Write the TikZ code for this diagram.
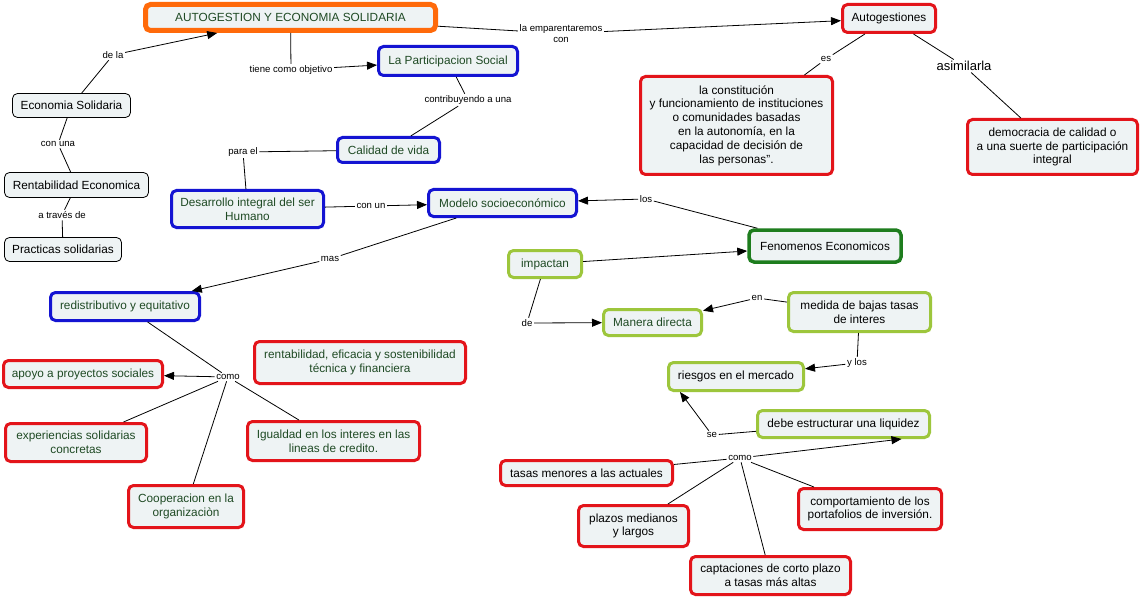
\documentclass[tikz,border=0pt]{standalone}
\usepackage{fontspec}
\setmainfont{Liberation Sans}
\usetikzlibrary{arrows.meta}
\definecolor{boxfill}{HTML}{EEF3F4}
\definecolor{orangeC}{HTML}{FF6A0A}
\definecolor{redC}{HTML}{E3141A}
\definecolor{blueC}{HTML}{1414D2}
\definecolor{greenC}{HTML}{1E7D1E}
\definecolor{yelC}{HTML}{9DC63C}
\definecolor{txtG}{HTML}{1F4A24}
\begin{document}
\begin{tikzpicture}[x=1pt,y=-1pt,
  box/.style={rounded corners=5pt, fill=boxfill, align=center, inner sep=0pt, font=\fontsize{11.8}{13.8}\selectfont, text=black},
  obox/.style={box, draw=orangeC, line width=5pt, text=txtG},
  rbox/.style={box, draw=redC, line width=3pt},
  rgbox/.style={rbox, text=txtG},
  bbox/.style={box, draw=blueC, line width=3pt, text=txtG},
  gbox/.style={box, draw=greenC, line width=3.5pt},
  ybox/.style={box, draw=yelC, line width=3pt},
  ygbox/.style={ybox, text=txtG},
  kbox/.style={box, draw=black, line width=0.8pt},
  lbl/.style={font=\fontsize{9.6}{11}\selectfont, inner sep=1.5pt, align=center},
  conn/.style={line width=0.8pt, black},
  arr/.style={conn, -{Triangle[length=10pt,width=8pt]}}
]
\useasboundingbox (0,0) rectangle (1141,599);
\fill[white] (0,0) rectangle (1141,599);

% concept nodes
\node[obox, minimum width=290pt, minimum height=26pt] (auto) at (290.5,17.5) {AUTOGESTION Y ECONOMIA SOLIDARIA};
\node[rbox, minimum width=93pt, minimum height=28pt] (autog) at (889,18.5) {Autogestiones};
\node[bbox, minimum width=139pt, minimum height=29pt] (part) at (448,61) {La Participacion Social};
\node[kbox, minimum width=118pt, minimum height=24pt] (eso) at (71.5,105.5) {Economia Solidaria};
\node[kbox, minimum width=144pt, minimum height=25pt] (rent) at (76.5,185) {Rentabilidad Economica};
\node[kbox, minimum width=117pt, minimum height=24pt] (prac) at (63,249.5) {Practicas solidarias};
\node[bbox, minimum width=102pt, minimum height=25pt] (cal) at (388.5,150) {Calidad de vida};
\node[bbox, minimum width=152pt, minimum height=37pt] (des) at (247.5,209) {Desarrollo integral del ser\\Humano};
\node[bbox, minimum width=148pt, minimum height=27pt] (mod) at (502.5,203) {Modelo socioeconómico};
\node[rbox, minimum width=192pt, minimum height=98pt] (const) at (736.5,125.5) {la constitución\\y funcionamiento de instituciones\\o comunidades basadas\\en la autonomía, en la\\capacidad de decisión de\\las personas”.};
\node[rbox, minimum width=170pt, minimum height=55pt] (demo) at (1052.5,147) {democracia de calidad o\\a una suerte de participación\\integral};
\node[gbox, minimum width=152pt, minimum height=32pt] (fen) at (825,246) {Fenomenos Economicos};
\node[ygbox, minimum width=73pt, minimum height=27pt] (imp) at (545,264) {impactan};
\node[ygbox, minimum width=98pt, minimum height=26pt] (man) at (652.5,322.5) {Manera directa};
\node[ybox, minimum width=142pt, minimum height=39pt] (med) at (859.5,312) {medida de bajas tasas\\de interes};
\node[ybox, minimum width=135pt, minimum height=28pt] (ries) at (736,376.5) {riesgos en el mercado};
\node[ybox, minimum width=172pt, minimum height=27pt] (deb) at (843.5,424) {debe estructurar una liquidez};
\node[bbox, minimum width=149pt, minimum height=28pt] (red) at (125,306.5) {redistributivo y equitativo};
\node[rgbox, minimum width=159pt, minimum height=27pt] (apoyo) at (83,374) {apoyo a proyectos sociales};
\node[rgbox, minimum width=211pt, minimum height=42pt] (rentef) at (360,362.5) {rentabilidad, eficacia y sostenibilidad\\técnica y financiera};
\node[rgbox, minimum width=141pt, minimum height=38pt] (exp) at (76,442.5) {experiencias solidarias\\concretas};
\node[rgbox, minimum width=172pt, minimum height=39pt] (ig) at (333.5,441) {Igualdad en los interes en las\\lineas de credito.};
\node[rgbox, minimum width=115pt, minimum height=42pt] (coop) at (186,506.5) {Cooperacion en la\\organizaciòn};
\node[rbox, minimum width=172pt, minimum height=25pt] (tas) at (586.5,473) {tasas menores a las actuales};
\node[rbox, minimum width=110pt, minimum height=41pt] (plaz) at (633.5,526) {plazos medianos\\y largos};
\node[rbox, minimum width=160pt, minimum height=38pt] (capt) at (770.5,575.5) {captaciones de corto plazo\\a tasas más altas};
\node[rbox, minimum width=143pt, minimum height=41pt] (comp) at (870,509) {comportamiento de los\\portafolios de inversión.};

% link labels
\node[lbl] (dela) at (113,55) {de la};
\node[lbl] (tco) at (291,70) {tiene como objetivo};
\node[lbl] (lec) at (561,33.5) {la emparentaremos\\con};
\node[lbl] (es) at (826,59) {es};
\node[lbl, font=\fontsize{13}{15}\selectfont] (asim) at (964,66) {asimilarla};
\node[lbl] (conuna) at (58,144) {con una};
\node[lbl] (atraves) at (62,215) {a través de};
\node[lbl] (contrib) at (468,100) {contribuyendo a una};
\node[lbl] (parael) at (243,152) {para el};
\node[lbl] (conun) at (371,206) {con un};
\node[lbl] (los) at (646,199) {los};
\node[lbl] (mas) at (330,259) {mas};
\node[lbl] (comoA) at (228,377) {como};
\node[lbl] (de) at (527,323) {de};
\node[lbl] (en) at (757,298) {en};
\node[lbl] (ylos) at (857,363) {y los};
\node[lbl] (se) at (712,435) {se};
\node[lbl] (comoB) at (740,458) {como};

% connectors
\draw[conn] (eso) -- (dela);
\draw[arr] (dela) -- (auto);
\draw[conn] (auto) -- (tco);
\draw[arr] (tco) -- (part);
\draw[conn] (auto) -- (lec);
\draw[arr] (lec) -- (autog);
\draw[conn] (autog) -- (es);
\draw[conn] (es) -- (const);
\draw[conn] (autog) -- (asim);
\draw[conn] (asim) -- (demo);
\draw[conn] (eso) -- (conuna);
\draw[conn] (conuna) -- (rent);
\draw[conn] (rent) -- (atraves);
\draw[conn] (atraves) -- (prac);
\draw[conn] (part) -- (contrib);
\draw[conn] (contrib) -- (cal);
\draw[conn] (cal) -- (parael);
\draw[conn] (parael) -- (des);
\draw[conn] (des) -- (conun);
\draw[arr] (conun) -- (mod);
\draw[conn] (fen) -- (los);
\draw[arr] (los) -- (mod);
\draw[conn] (mod) -- (mas);
\draw[arr] (mas) -- (red);
\draw[conn] (red) -- (comoA);
\draw[arr] (comoA) -- (apoyo);
\draw[conn] (comoA) -- (exp);
\draw[conn] (comoA) -- (coop);
\draw[conn] (comoA) -- (ig);
\draw[arr] (imp) -- (fen);
\draw[conn] (imp) -- (de);
\draw[arr] (de) -- (man);
\draw[conn] (med) -- (en);
\draw[arr] (en) -- (man);
\draw[conn] (med) -- (ylos);
\draw[arr] (ylos) -- (ries);
\draw[conn] (deb) -- (se);
\draw[arr] (se) -- ([xshift=13pt]ries.south west);
\draw[conn] (tas) -- (comoB);
\draw[arr] (comoB) -- ([xshift=58pt]deb.south);
\draw[conn] (comoB) -- (plaz);
\draw[conn] (comoB) -- (capt);
\draw[conn] (comoB) -- (comp);
\end{tikzpicture}
\end{document}
